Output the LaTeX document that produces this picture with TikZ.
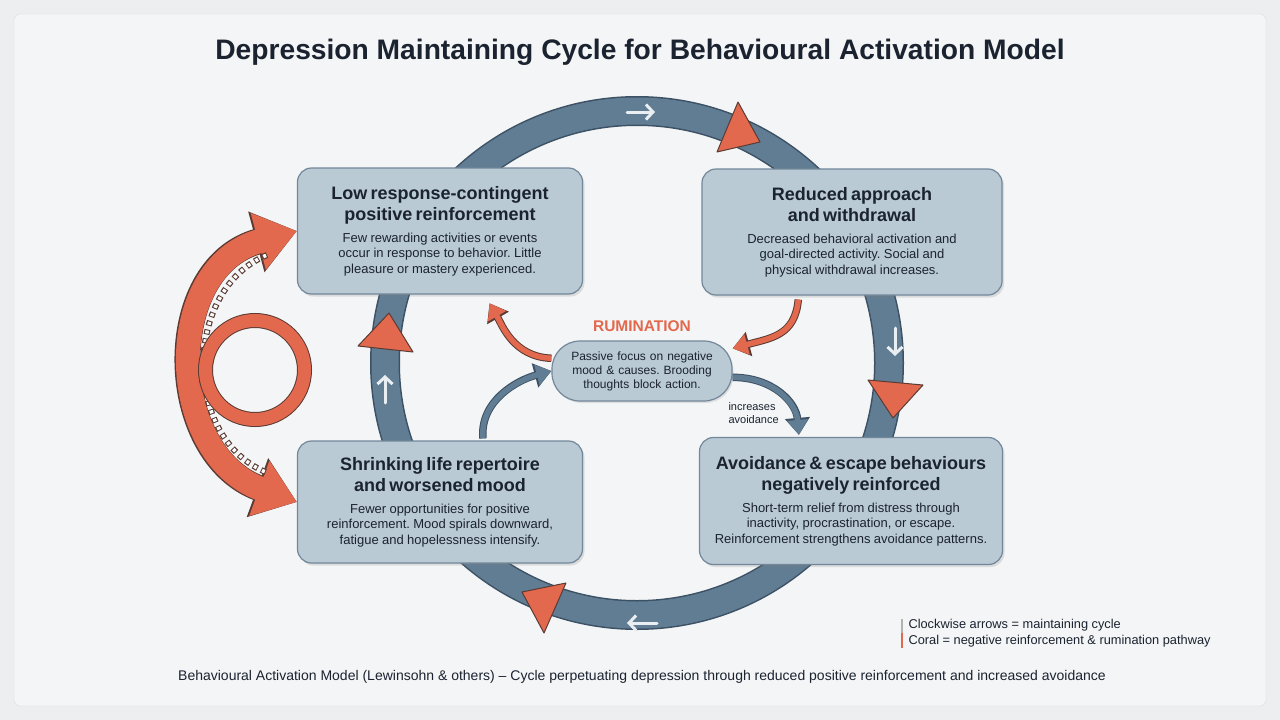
\documentclass[tikz,border=0pt]{standalone}
\usepackage{fontspec}
\setmainfont{Liberation Sans}
\usetikzlibrary{positioning, arrows.meta, shadows, calc}
\frenchspacing

\definecolor{pagebg}{HTML}{ECEEEF}
\definecolor{panelbg}{HTML}{F4F5F6}
\definecolor{panelline}{HTML}{D6DADD}
\definecolor{inkdark}{HTML}{1B2330}
\definecolor{cyclefill}{HTML}{607D93}
\definecolor{cycleline}{HTML}{3D5165}
\definecolor{boxfill}{HTML}{BACAD5}
\definecolor{boxline}{HTML}{72879A}
\definecolor{coral}{HTML}{E2694E}
\definecolor{coralline}{HTML}{5B3B33}
\definecolor{tickwhite}{HTML}{E9EEF2}

\newcommand{\boxhead}{\fontsize{18}{21.5}\selectfont\bfseries}
\newcommand{\boxtext}{\fontsize{13}{15.5}\selectfont}

\begin{document}
\begin{tikzpicture}[
        x=1pt, y=-1pt,
        stagebox/.style={rectangle, rounded corners=14pt, draw=boxline, line width=1.2pt, fill=boxfill,
            minimum height=126pt, align=center, inner sep=0pt, text=inkdark,
            drop shadow={opacity=0.22, shadow xshift=2pt, shadow yshift=-2.5pt}},
        rumbox/.style={rectangle, rounded corners=28pt, draw=boxline, line width=1.2pt, fill=boxfill,
            minimum width=180pt, minimum height=60pt, text width=172pt, align=center, inner sep=0pt,
            text=inkdark, font=\fontsize{12}{14}\selectfont,
            drop shadow={opacity=0.2, shadow xshift=1.5pt, shadow yshift=-2pt}},
        cyclering/.style={draw=cyclefill, line width=27pt, preaction={draw=cycleline, line width=30pt}},
        flowtick/.style={draw=tickwhite, line width=3pt, line cap=round, -{Straight Barb[length=7pt,width=15pt]}},
        marker/.style={fill=coral, draw=coralline, line width=1pt, line join=round},
        coralflow/.style={draw=coral, line width=5.5pt, -{Triangle[length=15pt,width=20pt]},
            preaction={draw=coralline, line width=7.5pt, -{Triangle[length=17pt,width=24pt]}}},
        blueflow/.style={draw=cyclefill, line width=5.5pt, -{Triangle[length=15pt,width=20pt]},
            preaction={draw=cycleline, line width=7.5pt, -{Triangle[length=17pt,width=24pt]}}},
        bigloop/.style={draw=coral, line width=24pt,
            {Triangle[length=40pt,width=56pt]}-{Triangle[length=40pt,width=56pt]},
            preaction={draw=coralline, line width=26pt,
            {Triangle[length=42pt,width=60pt]}-{Triangle[length=42pt,width=60pt]}}},
        ringline/.style={draw=coral, line width=13pt, preaction={draw=coralline, line width=15pt}},
        trackdash/.style={draw=coralline, line width=6pt, dash pattern=on 5pt off 4pt,
            postaction={draw=white, line width=3.6pt, dash pattern=on 3pt off 6pt, dash phase=8pt}},
    ]

    % background and panel
    \fill[pagebg] (0,0) rectangle (1280,720);
    \draw[panelline, fill=panelbg, rounded corners=6pt] (14,14) rectangle (1266,706);
    \useasboundingbox (0,0) rectangle (1280,720);

    \node[text=inkdark, font=\fontsize{28.2}{33}\selectfont\bfseries] (title) at (640,52)
        {Depression Maintaining Cycle for Behavioural Activation Model};

    % the maintaining cycle
    \draw[cyclering] (637,363) circle[radius=252pt];

    \foreach \from/\to in {{627,112}/{655,112}, {895,328}/{895,356}, {657,623}/{627,623}, {385,403}/{385,375}}
        \draw[flowtick] (\from) -- (\to);

    \foreach \a/\b/\c in {{738,102}/{717,152}/{760,142}, {868,380}/{923,385}/{893,418},
                          {389,313}/{358,346}/{413,352}, {522,592}/{566,583}/{544,633}}
        \filldraw[marker] (\a) -- (\b) -- (\c) -- cycle;

    % the four stages
    \node[stagebox, minimum width=285pt, text width=278pt] (lowpr) at (440,231)
        {{\boxhead Low response-contingent\\positive reinforcement\par}\vspace{6pt}
         {\boxtext Few rewarding activities or events\\occur in response to behavior. Little\\pleasure or mastery experienced.\par}};
    \node[stagebox, minimum width=300pt, text width=292pt] (redapp) at (852,232)
        {{\boxhead Reduced approach\\and withdrawal\par}\vspace{6pt}
         {\boxtext Decreased behavioral activation and\\goal-directed activity. Social and\\physical withdrawal increases.\par}};
    \node[stagebox, minimum width=285pt, minimum height=122pt, text width=278pt] (shrink) at (440,502)
        {{\boxhead Shrinking life repertoire\\and worsened mood\par}\vspace{6pt}
         {\boxtext Fewer opportunities for positive\\reinforcement. Mood spirals downward,\\fatigue and hopelessness intensify.\par}};
    \node[stagebox, minimum width=303pt, minimum height=127pt, text width=296pt] (avoid) at (851,501)
        {{\boxhead Avoidance \& escape behaviours\\negatively reinforced\par}\vspace{6pt}
         {\boxtext Short-term relief from distress through\\inactivity, procrastination, or escape.\\Reinforcement strengthens avoidance patterns.\par}};

    % rumination in the middle
    \node[rumbox] (rum) at (642,371)
        {Passive focus on negative\\mood \& causes. Brooding\\thoughts block action.};
    \node[text=coral, font=\fontsize{15.5}{18}\selectfont\bfseries] (rumlabel) [above=5pt of rum] {RUMINATION};

    \draw[coralflow, shorten >=10pt] (rum.172) .. controls +(178:38pt) and +(-60:35pt) .. (lowpr.-55);
    \draw[coralflow, shorten <=4pt] (redapp.-130) .. controls +(-95:40pt) and +(15:40pt) .. (rum.14);
    \draw[blueflow, shorten <=2pt] (shrink.55) .. controls +(95:40pt) and +(195:35pt) .. (rum.west);
    \draw[blueflow, shorten >=2pt] (rum.-4) .. controls +(0:40pt) and +(95:35pt) .. (avoid.129);
    \node[anchor=west, align=left, text=inkdark, font=\fontsize{11}{12.5}\selectfont] (incr) at (725,413)
        {increases\\avoidance};

    % negative reinforcement loop on the left
    \draw[bigloop] (shrink.west) .. controls +(160:140pt) and +(195:140pt) .. (lowpr.west);
    \draw[trackdash] (267,255) .. controls (182,290) and (182,440) .. (268,473);
    \draw[ringline] (255,370) circle[radius=49.5pt];

    % legend and footer
    \draw[gray!60, line width=2pt] (902,619) -- (902,633);
    \draw[coral, line width=2pt] (902,633) -- (902,648);
    \node[anchor=west, align=left, text=inkdark, font=\fontsize{12.8}{16.5}\selectfont] (legend) at (905,633)
        {Clockwise arrows = maintaining cycle\\Coral = negative reinforcement \& rumination pathway};
    \node[text=inkdark, font=\fontsize{14}{16}\selectfont] (foot) at (642,677)
        {Behavioural Activation Model (Lewinsohn \& others) – Cycle perpetuating depression through reduced positive reinforcement and increased avoidance};
\end{tikzpicture}
\end{document}
